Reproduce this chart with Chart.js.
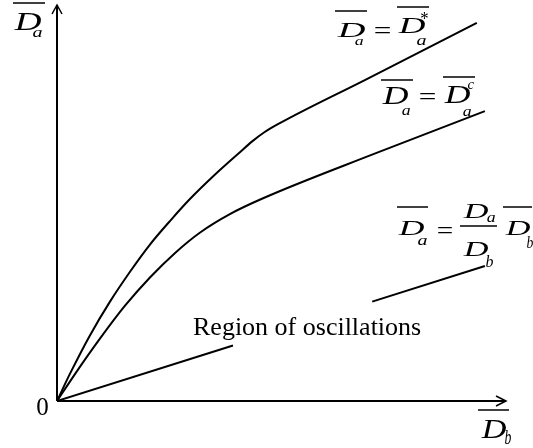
<!DOCTYPE html>
<html>
<head>
<meta charset="utf-8">
<script src="https://cdn.jsdelivr.net/npm/chart.js@4.4.1/dist/chart.umd.min.js"></script>
<style>
  body { margin: 0; background: #fff; }
  #wrap { width: 533px; height: 448px; }
</style>
</head>
<body>
<div id="wrap"><canvas id="myChart" width="533" height="448"></canvas></div>
<script>
// curve D_a = D_a*  (upper)
var upperX = [0, 0.29, 0.73, 1.18, 1.63, 2.07, 2.52, 2.96, 3.52, 4.08, 4.34, 4.61, 4.92, 6.90, 9.35];
var upperY = [0, 0.69, 1.65, 2.51, 3.27, 3.95, 4.55, 5.10, 5.72, 6.29, 6.55, 6.78, 6.99, 8.13, 9.55];
// curve D_a = D_a^c (lower)
var lowerX = [0, 0.40, 0.96, 1.51, 2.07, 2.63, 3.18, 3.85, 4.59, 7.06, 9.53];
var lowerY = [0, 0.68, 1.58, 2.40, 3.12, 3.74, 4.25, 4.72, 5.12, 6.24, 7.32];
// straight line D_a = (Da/Db) D_b, broken where the label sits
var rayX = [0, 3.92, 5.5, 7.02, 9.53];
var rayY = [0, 1.40, null, 2.51, 3.41];

var axisMax = 10;
var serif = '"Liberation Serif", "Times New Roman", serif';

function toPoints(xs, ys) {
    return xs.map(function (x, i) { return { x: x, y: ys[i] }; });
}

// draw a piece of text stretched into a box (ink box)
function fitText(ctx, text, x0, y0, x1, y1, italic) {
    ctx.save();
    ctx.font = (italic ? 'italic ' : '') + '100px ' + serif;
    ctx.textAlign = 'left';
    ctx.textBaseline = 'alphabetic';
    var m = ctx.measureText(text);
    var w = m.actualBoundingBoxLeft + m.actualBoundingBoxRight;
    var h = m.actualBoundingBoxAscent + m.actualBoundingBoxDescent;
    var sx = (x1 - x0) / w;
    var sy = (y1 - y0) / h;
    ctx.translate(x0 + m.actualBoundingBoxLeft * sx, y0 + m.actualBoundingBoxAscent * sy);
    ctx.scale(sx, sy);
    ctx.fillStyle = '#000';
    ctx.fillText(text, 0, 0);
    ctx.restore();
}

function hline(ctx, x0, x1, y, lw) {
    ctx.beginPath();
    ctx.lineWidth = lw || 1.5;
    ctx.moveTo(x0, y);
    ctx.lineTo(x1, y);
    ctx.stroke();
}

var decorations = {
    id: 'decorations',
    afterDraw: function (chart) {
        var ctx = chart.ctx;
        var xs = chart.scales.x, ys = chart.scales.y;
        var ox = xs.getPixelForValue(0), oy = ys.getPixelForValue(0);
        var ex = xs.getPixelForValue(axisMax), ty = ys.getPixelForValue(axisMax);

        ctx.save();
        ctx.strokeStyle = '#000';
        ctx.lineWidth = 2;
        ctx.beginPath();
        ctx.moveTo(ox, oy); ctx.lineTo(ex, oy);
        ctx.moveTo(ox, oy); ctx.lineTo(ox, ty);
        ctx.stroke();
        // arrow heads
        ctx.lineWidth = 1.5;
        ctx.beginPath();
        ctx.moveTo(ex - 10, oy - 5); ctx.lineTo(ex, oy); ctx.lineTo(ex - 10, oy + 5);
        ctx.moveTo(ox - 5, ty + 9); ctx.lineTo(ox, ty); ctx.lineTo(ox + 5, ty + 9);
        ctx.stroke();

        // y axis label
        hline(ctx, 13, 45, 3);
        fitText(ctx, 'D', 14, 14, 41, 30, true);
        fitText(ctx, 'a', 33, 30, 42, 37, true);

        // x axis label
        hline(ctx, 478, 509, 410);
        fitText(ctx, 'D', 481, 420, 506, 438, true);
        fitText(ctx, 'b', 505, 430, 511, 444, true);

        // origin
        fitText(ctx, '0', 37, 398, 48, 415, false);

        // D_a = D_a*
        hline(ctx, 335, 367, 11);
        fitText(ctx, 'D', 337, 23, 365, 37, true);
        fitText(ctx, 'a', 355, 39, 363, 45, true);
        fitText(ctx, '=', 375, 27, 390, 33, false);
        hline(ctx, 397, 429, 7);
        fitText(ctx, 'D', 398, 18, 425, 33, true);
        fitText(ctx, '*', 421, 13, 428, 20, false);
        fitText(ctx, 'a', 417, 38, 426, 45, true);

        // D_a = D_a^c
        hline(ctx, 381, 413, 80);
        fitText(ctx, 'D', 382, 88, 408, 104, true);
        fitText(ctx, 'a', 402, 108, 410, 115, true);
        fitText(ctx, '=', 420, 93, 435, 99, false);
        hline(ctx, 443, 475, 77);
        fitText(ctx, 'D', 444, 87, 470, 103, true);
        fitText(ctx, 'c', 468, 82, 474, 89, true);
        fitText(ctx, 'a', 463, 109, 471, 116, true);

        // D_a = (Da/Db) D_b
        hline(ctx, 397, 428, 207);
        fitText(ctx, 'D', 398, 221, 424, 235, true);
        fitText(ctx, 'a', 418, 238, 427, 245, true);
        fitText(ctx, '=', 438, 227, 452, 233, false);
        fitText(ctx, 'D', 463, 204, 488, 218, true);
        fitText(ctx, 'a', 487, 215, 495, 222, true);
        hline(ctx, 460, 497, 226, 1.3);
        fitText(ctx, 'D', 463, 242, 488, 256, true);
        fitText(ctx, 'b', 486, 255, 493, 267, true);
        hline(ctx, 503, 532, 207);
        fitText(ctx, 'D', 505, 221, 530, 235, true);
        fitText(ctx, 'b', 527, 236, 533, 248, true);

        // region label
        ctx.fillStyle = '#000';
        ctx.font = '26px ' + serif;
        ctx.textAlign = 'left';
        ctx.textBaseline = 'alphabetic';
        ctx.fillText('Region of oscillations', 193, 335);
        ctx.restore();
    }
};

var ctx = document.getElementById('myChart');

var lineStyle = {
    borderColor: '#000',
    borderWidth: 2,
    pointRadius: 0,
    fill: false,
    cubicInterpolationMode: 'monotone'
};

var data = {
    datasets: [
        Object.assign({ label: 'D*', data: toPoints(upperX, upperY) }, lineStyle),
        Object.assign({ label: 'Dc', data: toPoints(lowerX, lowerY) }, lineStyle),
        Object.assign({ label: 'ray', data: toPoints(rayX, rayY), spanGaps: false }, lineStyle, { cubicInterpolationMode: 'default', tension: 0 })
    ]
};

var chart = new Chart(ctx, {
    type: 'line',
    data: data,
    options: {
        responsive: false,
        animation: false,
        devicePixelRatio: 1,
        layout: { padding: { left: 57, top: 5, right: 27, bottom: 47 } },
        plugins: { legend: { display: false }, tooltip: { enabled: false } },
        scales: {
            x: { type: 'linear', display: false, min: 0, max: axisMax },
            y: { type: 'linear', display: false, min: 0, max: axisMax }
        }
    },
    plugins: [decorations]
});
</script>
</body>
</html>
